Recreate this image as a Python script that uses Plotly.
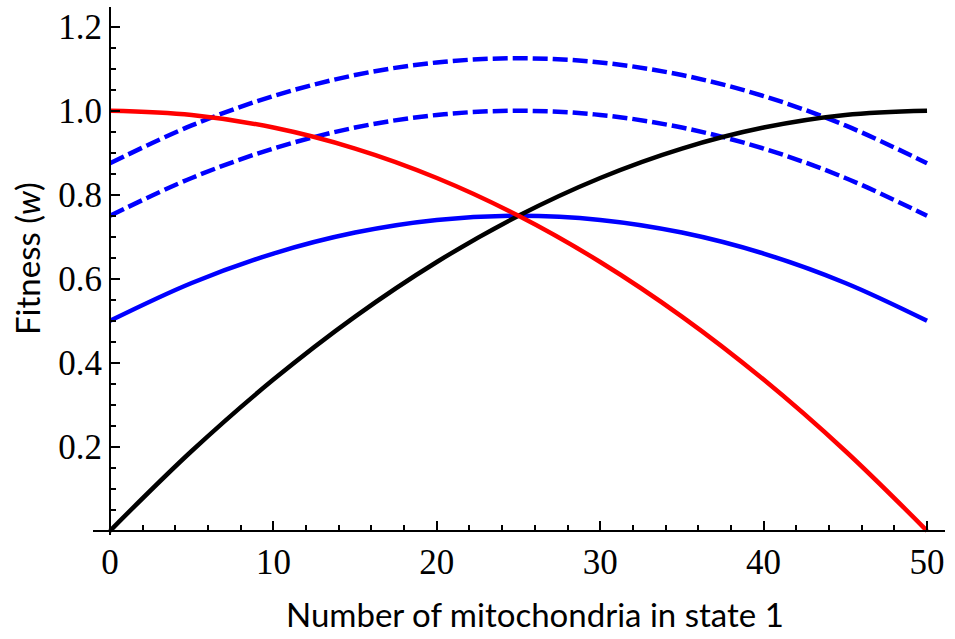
import plotly.graph_objects as go

# Number of mitochondria in state 1
n = [0, 5, 10, 15, 20, 25, 30, 35, 40, 45, 50]

# Fitness curves sampled along n
w_red = [1.0, 0.99, 0.96, 0.91, 0.84, 0.75, 0.64, 0.51, 0.36, 0.19, 0.0]
w_black = [0.0, 0.19, 0.36, 0.51, 0.64, 0.75, 0.84, 0.91, 0.96, 0.99, 1.0]
w_blue = [0.50, 0.59, 0.66, 0.71, 0.74, 0.75, 0.74, 0.71, 0.66, 0.59, 0.50]
w_blue_dash_low = [0.75, 0.84, 0.91, 0.96, 0.99, 1.0, 0.99, 0.96, 0.91, 0.84, 0.75]
w_blue_dash_high = [0.875, 0.965, 1.035, 1.085, 1.115, 1.125, 1.115, 1.085, 1.035, 0.965, 0.875]

x_ticks = [0, 10, 20, 30, 40, 50]
y_ticks = [0.2, 0.4, 0.6, 0.8, 1.0, 1.2]
y_ticklabels = ["0.2", "0.4", "0.6", "0.8", "1.0", "1.2"]

x_range = [-1.04, 51.1]
y_range = [-0.01, 1.247]

fig = go.Figure()

series = [
    (w_blue_dash_high, "#0000ff", "15px,5px"),
    (w_blue_dash_low, "#0000ff", "15px,5px"),
    (w_blue, "#0000ff", "solid"),
    (w_black, "#000000", "solid"),
    (w_red, "#ff0000", "solid"),
]
for ys, color, dash in series:
    fig.add_trace(go.Scatter(
        x=n, y=ys, mode="lines",
        line=dict(color=color, width=4.5, dash=dash, shape="spline", smoothing=1.0),
        showlegend=False, hoverinfo="skip",
    ))

tick_font = dict(family="Liberation Serif, Times New Roman, serif", size=35, color="black")
title_font = dict(family="Lato, Open Sans, sans-serif", size=33, color="black")

fig.update_layout(
    width=955, height=639,
    margin=dict(l=93, r=10, t=7, b=104),
    paper_bgcolor="white", plot_bgcolor="white",
    xaxis=dict(
        range=x_range, showgrid=False, zeroline=False,
        showline=True, linecolor="black", linewidth=2,
        anchor="free", position=(0 - y_range[0]) / (y_range[1] - y_range[0]),
        tickmode="array", tickvals=x_ticks, ticks="inside", ticklen=9,
        tickwidth=2, tickcolor="black", tickfont=tick_font,
        minor=dict(tickmode="linear", tick0=0, dtick=2, ticks="inside",
                   ticklen=5, tickwidth=2, tickcolor="black", showgrid=False),
    ),
    yaxis=dict(
        range=y_range, showgrid=False, zeroline=False,
        showline=True, linecolor="black", linewidth=2,
        anchor="free", position=(0 - x_range[0]) / (x_range[1] - x_range[0]),
        tickmode="array", tickvals=y_ticks, ticktext=y_ticklabels,
        ticks="inside", ticklen=9, tickwidth=2, tickcolor="black",
        tickfont=tick_font,
        minor=dict(tickmode="linear", tick0=0, dtick=0.05, ticks="inside",
                   ticklen=5, tickwidth=2, tickcolor="black", showgrid=False),
    ),
    annotations=[
        dict(text="Number of mitochondria in state 1", xref="paper", yref="paper",
             x=(535 - 93) / 852, y=-(614 - 535) / 528, xanchor="center", yanchor="middle",
             showarrow=False, font=title_font),
        dict(text="Fitness (<i>w</i>)", xref="paper", yref="paper",
             x=-(93 - 27) / 852, y=(535 - 259) / 528, xanchor="center", yanchor="middle",
             textangle=-90, showarrow=False, font=title_font),
    ],
)

fig.write_html("out.html")
